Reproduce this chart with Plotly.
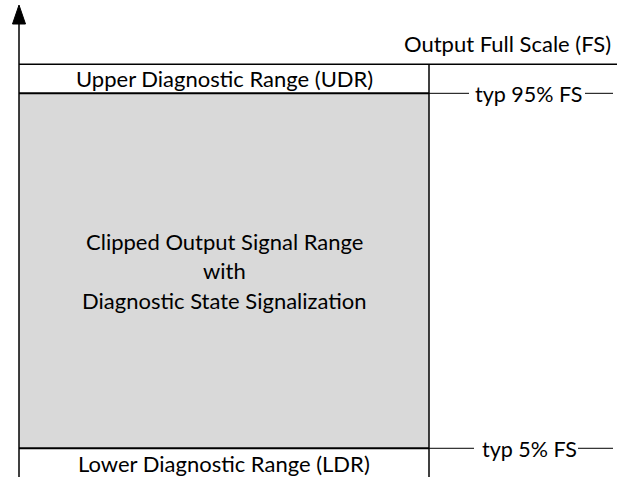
import plotly.graph_objects as go

# ---- data (percent of output full scale) ----
threshold_pct = [5, 95]                      # LDR/clipped boundary, clipped/UDR boundary
threshold_labels = ["typ 5% FS", "typ 95% FS"]
fs_top_pct = 102.4                           # top of the Upper Diagnostic Range band
range_labels = ["Upper Diagnostic Range (UDR)", "Lower Diagnostic Range (LDR)"]
center_lines = ["Clipped Output Signal Range", "with", "Diagnostic State Signalization"]
axis_title = "Output Full Scale (FS)"

# ---- layout constants ----
W, H = 617, 477
Y_MIN, Y_MAX = -2.28, 118.66
PX = H / (Y_MAX - Y_MIN)          # pixels per percent
def y_of_px(p):
    return Y_MAX - p / PX

X_AXIS = 19
X_BOX_R = 429
X_RIGHT = 613
# leader-line gaps around the threshold labels: (left line end, text start, right line start)
LEADER_GAPS = [(474, 481, 578), (469, 474, 585)]
FONT = dict(family="Lato, Carlito, Calibri, sans-serif", size=22, color="black")
FONT_SMALL = dict(FONT, size=21.5)

lo, hi = threshold_pct
fig = go.Figure()

shapes = []
# grey clipped region
shapes.append(dict(type="rect", x0=X_AXIS, x1=X_BOX_R, y0=lo, y1=hi,
                   fillcolor="#d9d9d9", line=dict(width=0), layer="below"))
# box top / bottom borders
for v in threshold_pct:
    shapes.append(dict(type="line", x0=X_AXIS, x1=X_BOX_R, y0=v, y1=v,
                       line=dict(color="black", width=2)))
# threshold leader lines on the right
for v, (l_end, _, r_start) in zip(threshold_pct, LEADER_GAPS):
    shapes.append(dict(type="line", x0=X_BOX_R, x1=l_end, y0=v, y1=v,
                       line=dict(color="black", width=1)))
    shapes.append(dict(type="line", x0=r_start, x1=X_RIGHT, y0=v, y1=v,
                       line=dict(color="black", width=1)))
# top of UDR band
shapes.append(dict(type="line", x0=X_AXIS, x1=W, y0=fs_top_pct, y1=fs_top_pct,
                   line=dict(color="black", width=1.5)))
# right vertical border
shapes.append(dict(type="line", x0=X_BOX_R, x1=X_BOX_R, y0=Y_MIN, y1=fs_top_pct,
                   line=dict(color="black", width=1.5)))
# vertical axis
arrow_base = y_of_px(24)
arrow_tip = y_of_px(5)
shapes.append(dict(type="line", x0=X_AXIS, x1=X_AXIS, y0=Y_MIN, y1=arrow_base,
                   line=dict(color="black", width=1.5)))
shapes.append(dict(type="path",
                   path=f"M {X_AXIS-6.5},{arrow_base} L {X_AXIS+6.5},{arrow_base} L {X_AXIS},{arrow_tip} Z",
                   fillcolor="black", line=dict(color="black", width=1)))

ann = []
ann.append(dict(x=X_RIGHT, y=y_of_px(43), text=axis_title, xanchor="right", yanchor="middle",
                showarrow=False, font=FONT))
xc = (X_AXIS + X_BOX_R) / 2
ann.append(dict(x=xc, y=(hi + fs_top_pct) / 2, text=range_labels[0], xanchor="center",
                yanchor="middle", showarrow=False, font=FONT))
ann.append(dict(x=xc, y=y_of_px(463), text=range_labels[1], xanchor="center",
                yanchor="middle", showarrow=False, font=FONT))
for i, line in enumerate(center_lines):
    ann.append(dict(x=xc, y=(lo + hi) / 2 + (1 - i) * 29.5 / PX, text=line, xanchor="center",
                    yanchor="middle", showarrow=False, font=FONT))
for v, lab, (_, t_start, _) in zip(threshold_pct, threshold_labels, LEADER_GAPS):
    ann.append(dict(x=t_start, y=v, text=lab, xanchor="left", yanchor="middle",
                    showarrow=False, font=FONT_SMALL, borderpad=0, yshift=-1,
                    bgcolor="white"))

fig.update_layout(
    width=W, height=H, margin=dict(l=0, r=0, t=0, b=0),
    paper_bgcolor="white", plot_bgcolor="white",
    xaxis=dict(range=[0, W], visible=False, fixedrange=True),
    yaxis=dict(range=[Y_MIN, Y_MAX], visible=False, fixedrange=True),
    shapes=shapes, annotations=ann, showlegend=False,
)
fig.write_html(
    "out.html",
    config={"displayModeBar": False},
    post_script="document.body.style.margin='0';document.body.style.overflow='hidden';",
)
